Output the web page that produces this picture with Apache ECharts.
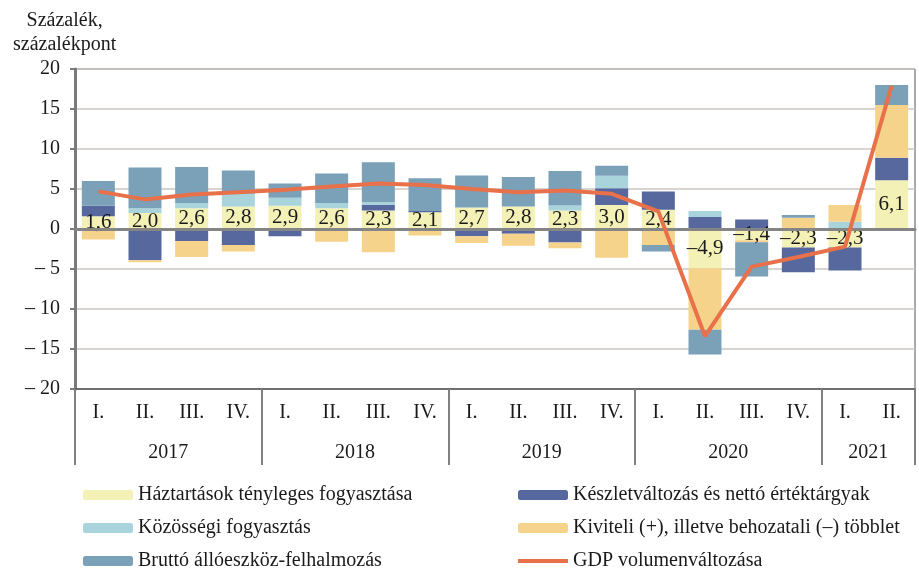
<!DOCTYPE html>
<html>
<head>
<meta charset="utf-8">
<script src="https://cdn.jsdelivr.net/npm/echarts@6/dist/echarts.min.js"></script>
<style>
  html, body { margin: 0; padding: 0; background: #fff; }
  #main { width: 919px; height: 576px; }
</style>
</head>
<body>
<div id="main"></div>
<script>
  // negyedévek és évek
  var quarterLabels = ['I.', 'II.', 'III.', 'IV.', 'I.', 'II.', 'III.', 'IV.', 'I.', 'II.', 'III.', 'IV.',
    'I.', 'II.', 'III.', 'IV.', 'I.', 'II.'];
  var yearLabels = ['2017', '2018', '2019', '2020', '2021'];
  var yearSpans = [4, 4, 4, 4, 2];

  // hozzájárulások (százalékpont)
  var haztartasok = [1.6, 2.0, 2.6, 2.8, 2.9, 2.6, 2.3, 2.1, 2.7, 2.8, 2.3, 3.0, 2.4, -4.9, -1.4, -2.3, -2.3, 6.1];
  var keszlet = [1.3, -3.9, -1.5, -2.0, -0.9, 0, 0.7, 0.15, -0.9, -0.6, -1.7, 2.1, 2.3, 1.5, 1.2, -3.1, -2.9, 2.8];
  var kozossegi = [0, 0.6, 0.65, 1.6, 1.0, 0.65, 0.35, 0, 0, 0, 0.65, 1.55, 0, 0.75, 0, 0, 0.9, 0];
  var kiviteli = [-1.3, -0.25, -2.0, -0.8, 0, -1.6, -2.9, -0.8, -0.85, -1.5, -0.7, -3.6, -2.0, -7.7, -0.25, 1.4, 2.1, 6.6];
  var brutto = [3.1, 5.1, 4.5, 2.9, 1.8, 3.7, 5.0, 4.1, 4.0, 3.7, 4.3, 1.25, -0.8, -3.1, -4.3, 0.35, 0, 2.5];
  var gdp = [4.7, 3.7, 4.3, 4.6, 4.9, 5.3, 5.7, 5.5, 5.0, 4.6, 4.8, 4.4, 2.2, -13.4, -4.7, -3.5, -2.2, 17.9];

  var serif = 'Liberation Serif';

  // évek tengelye: 19 pont a negyedévek határain
  var yearAxisData = [];
  var yearBounds = [0];
  for (var i = 0; i <= quarterLabels.length; i++) yearAxisData.push('');
  var pos = 0;
  for (var y = 0; y < yearLabels.length; y++) {
    yearAxisData[pos + yearSpans[y] / 2] = yearLabels[y];
    pos += yearSpans[y];
    yearBounds.push(pos);
  }

  function fmt(v) {
    var s = Math.abs(v).toFixed(1).replace('.', ',');
    return v < 0 ? '–' + s : s;
  }

  var myChart = echarts.init(document.getElementById('main'));

  function barSeries(name, data, color) {
    return {
      name: name,
      type: 'bar',
      stack: 'total',
      barWidth: 33,
      xAxisIndex: 0,
      itemStyle: { color: color },
      data: data
    };
  }

  var hzt = barSeries('Háztartások tényleges fogyasztása', haztartasok, '#f3f1b6');
  hzt.label = {
    show: true,
    position: 'inside',
    formatter: function (p) { return fmt(p.value); },
    fontFamily: serif,
    fontSize: 21,
    color: '#1a1a1a'
  };

  var legendText = { fontFamily: serif, fontSize: 20, color: '#1a1a1a' };

  var option = {
    backgroundColor: '#fff',
    animation: false,
    grid: {
      left: 75,
      right: 4,
      top: 69,
      bottom: 187,
      show: true,
      borderColor: '#555',
      borderWidth: 1
    },
    graphic: [{
      type: 'text',
      left: 13,
      top: 9,
      style: {
        text: 'Százalék,\nszázalékpont',
        font: '20px "Liberation Serif"',
        fill: '#1a1a1a',
        textAlign: 'center',
        lineHeight: 24
      }
    }],
    legend: [{
      left: 83,
      top: 485,
      height: 110,
      orient: 'vertical',
      padding: 0,
      itemWidth: 50,
      itemHeight: 10,
      itemGap: 13,
      textStyle: legendText,
      data: ['Háztartások tényleges fogyasztása', 'Közösségi fogyasztás', 'Bruttó állóeszköz-felhalmozás']
    }, {
      left: 516,
      top: 485,
      height: 110,
      orient: 'vertical',
      padding: 0,
      itemWidth: 50,
      itemHeight: 10,
      itemGap: 13,
      textStyle: legendText,
      data: ['Készletváltozás és nettó értéktárgyak', 'Kiviteli (+), illetve behozatali (–) többlet',
        { name: 'GDP volumenváltozása', itemStyle: { opacity: 0 }, lineStyle: { width: 4, color: '#e8704a' } }]
    }],
    xAxis: [{
      // negyedévek
      type: 'category',
      position: 'bottom',
      data: quarterLabels,
      axisLine: { onZero: false, lineStyle: { color: '#555', width: 1.5 } },
      axisTick: { length: 42, lineStyle: { color: '#808080', width: 2 } },
      axisLabel: { margin: 14, interval: 0, fontFamily: serif, fontSize: 20, color: '#1a1a1a' },
      splitLine: { show: false }
    }, {
      // évek
      type: 'category',
      position: 'bottom',
      boundaryGap: false,
      data: yearAxisData,
      axisLine: { show: false, onZero: false },
      axisTick: {
        length: 76,
        interval: function (idx) { return yearBounds.indexOf(idx) >= 0; },
        lineStyle: { color: '#808080', width: 2 }
      },
      axisLabel: { margin: 54, interval: 0, fontFamily: serif, fontSize: 20, color: '#1a1a1a' },
      splitLine: { show: false }
    }, {
      // nullvonal
      type: 'category',
      position: 'bottom',
      data: quarterLabels,
      z: 3,
      axisLine: { onZero: true, lineStyle: { color: '#858585', width: 3 } },
      axisTick: { length: 5, lineStyle: { color: '#858585', width: 2 } },
      axisLabel: { show: false },
      splitLine: { show: false }
    }],
    yAxis: {
      type: 'value',
      min: -20,
      max: 20,
      interval: 5,
      axisLine: { show: true, lineStyle: { color: '#7a7a7a', width: 3 } },
      axisTick: { show: true, length: 5, lineStyle: { color: '#7a7a7a', width: 2 } },
      axisLabel: {
        margin: 15,
        fontFamily: serif,
        fontSize: 20,
        color: '#1a1a1a',
        formatter: function (v) { return v < 0 ? '– ' + Math.abs(v) : String(v); }
      },
      splitLine: { lineStyle: { color: '#cbc6c2', width: 1.5 } }
    },
    series: [
      hzt,
      barSeries('Készletváltozás és nettó értéktárgyak', keszlet, '#56689e'),
      barSeries('Közösségi fogyasztás', kozossegi, '#a9d4db'),
      barSeries('Kiviteli (+), illetve behozatali (–) többlet', kiviteli, '#f5d38b'),
      barSeries('Bruttó állóeszköz-felhalmozás', brutto, '#7aa1b8'),
      {
        name: 'GDP volumenváltozása',
        type: 'line',
        xAxisIndex: 0,
        symbol: 'none',
        z: 4,
        lineStyle: { color: '#e8704a', width: 4 },
        itemStyle: { color: '#e8704a' },
        data: gdp
      }
    ]
  };

  myChart.setOption(option);
</script>
</body>
</html>
